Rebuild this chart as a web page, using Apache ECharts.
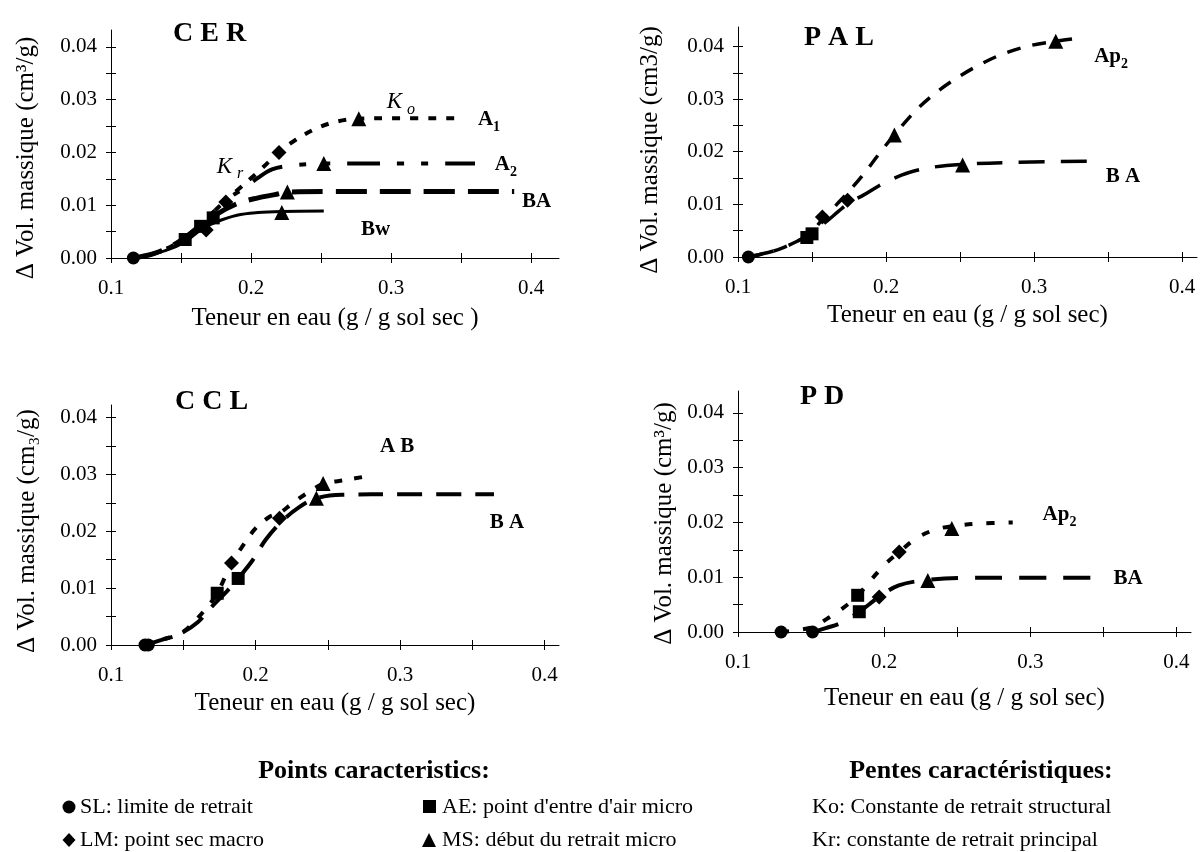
<!DOCTYPE html>
<html>
<head>
<meta charset="utf-8">
<title>Courbes de retrait</title>
<script src="https://cdn.jsdelivr.net/npm/echarts@6/dist/echarts.min.js"></script>
<style>
html, body { margin: 0; padding: 0; background: #fff; }
#main { width: 1202px; height: 852px; }
</style>
</head>
<body>
<div id="main"></div>
<script>
// ticks shared by the four panels
var xTicks = [0.1, 0.15, 0.2, 0.25, 0.3, 0.35, 0.4];
var xLabels = [0.1, 0.2, 0.3, 0.4];
var yTicks = [0, 0.005, 0.01, 0.015, 0.02, 0.025, 0.03, 0.035, 0.04];
var yLabels = [0, 0.01, 0.02, 0.03, 0.04];

// CER
var cerA1 = [[0.115,0],[0.13,0.0008],[0.145,0.0025],[0.16,0.0055],[0.175,0.0092],[0.19,0.0128],[0.205,0.0163],[0.22,0.0200],[0.232,0.0224],[0.247,0.0246],[0.262,0.0259],[0.277,0.0264],[0.30,0.0265],[0.35,0.0265]];
var cerA2 = [[0.115,0],[0.13,0.0008],[0.145,0.0025],[0.16,0.0055],[0.175,0.0092],[0.185,0.0115],[0.195,0.0132],[0.205,0.0152],[0.215,0.0168],[0.228,0.0175],[0.252,0.0179],[0.30,0.0179],[0.36,0.0179]];
var cerBA = [[0.115,0],[0.13,0.0008],[0.145,0.0025],[0.16,0.0052],[0.175,0.0082],[0.19,0.0103],[0.205,0.0114],[0.217,0.0120],[0.226,0.0125],[0.26,0.0126],[0.32,0.0126],[0.388,0.0126]];
var cerBw = [[0.115,0],[0.13,0.0007],[0.145,0.002],[0.155,0.0035],[0.165,0.0055],[0.175,0.0068],[0.19,0.0081],[0.205,0.0086],[0.222,0.0088],[0.252,0.0089]];
var cerSL = [[0.116,0]];
var cerAE = [[0.153,0.0035],[0.164,0.006],[0.173,0.0076]];
var cerLM = [[0.168,0.0053],[0.182,0.0106],[0.220,0.0200]];
var cerMS = [[0.277,0.0264],[0.252,0.0179],[0.226,0.0125],[0.222,0.0086]];
var cerText = [[0.307,0.0295,'{k|K}{ks|o}'],[0.185,0.0172,'{k|K}{ks|r}'],[0.370,0.0262,'{b|A}{bs|1}'],[0.382,0.0177,'{b|A}{bs|2}'],[0.404,0.0106,'{b|BA}'],[0.289,0.0053,'{b|Bw}']];

// PAL
var palAp2 = [[0.107,0],[0.118,0.0007],[0.128,0.0015],[0.14,0.003],[0.15,0.0048],[0.157,0.0072],[0.165,0.0095],[0.175,0.0125],[0.185,0.0158],[0.195,0.0195],[0.2056,0.0232],[0.22,0.0278],[0.235,0.0315],[0.25,0.0344],[0.265,0.0368],[0.28,0.0387],[0.298,0.0402],[0.315,0.041],[0.328,0.0415]];
var palBA = [[0.107,0],[0.118,0.0007],[0.128,0.0015],[0.14,0.003],[0.15,0.0045],[0.16,0.0068],[0.168,0.0087],[0.175,0.0103],[0.185,0.0118],[0.195,0.0135],[0.205,0.0149],[0.215,0.016],[0.23,0.017],[0.2517,0.0176],[0.29,0.018],[0.342,0.0182]];
var palSL = [[0.107,0]];
var palAE = [[0.1465,0.0037],[0.150,0.0044]];
var palLM = [[0.157,0.0076],[0.174,0.0108]];
var palMS = [[0.2056,0.0232],[0.3146,0.041],[0.2517,0.0175]];
var palText = [[0.352,0.0381,'{b|Ap}{bs|2}'],[0.360,0.0153,'{b|B A}']];

// CCL
var cclAB = [[0.124,0],[0.135,0.0009],[0.148,0.002],[0.158,0.0042],[0.166,0.0065],[0.1735,0.0091],[0.1834,0.0144],[0.19,0.017],[0.2,0.0205],[0.21,0.0226],[0.2166,0.0232],[0.225,0.0248],[0.235,0.0266],[0.2468,0.0283],[0.262,0.029],[0.28,0.0298]];
var cclBA = [[0.124,0],[0.135,0.0009],[0.148,0.002],[0.16,0.004],[0.17,0.0068],[0.18,0.0094],[0.188,0.0117],[0.198,0.0149],[0.207,0.0185],[0.218,0.0217],[0.23,0.0242],[0.2421,0.0258],[0.26,0.0264],[0.3,0.0265],[0.365,0.0265]];
var cclSL = [[0.1235,0],[0.1258,0]];
var cclAE = [[0.1735,0.0091],[0.188,0.0117]];
var cclLM = [[0.1834,0.0144],[0.2166,0.0223]];
var cclMS = [[0.2468,0.0284],[0.2421,0.0258]];
var cclText = [[0.298,0.0349,'{b|A B}'],[0.374,0.0215,'{b|B A}']];

// PD
var pdAp2 = [[0.1295,0],[0.14,0.0003],[0.152,0.001],[0.162,0.0026],[0.172,0.0044],[0.182,0.0067],[0.192,0.0098],[0.2,0.0122],[0.2103,0.0146],[0.222,0.0171],[0.235,0.0187],[0.2463,0.0193],[0.265,0.0198],[0.288,0.02]];
var pdBA = [[0.151,0],[0.16,0.0007],[0.171,0.0017],[0.183,0.0037],[0.1966,0.0064],[0.21,0.0085],[0.2299,0.0095],[0.26,0.0099],[0.348,0.0099]];
var pdSL = [[0.1295,0],[0.151,0]];
var pdAE = [[0.1819,0.0067],[0.183,0.0037]];
var pdLM = [[0.2103,0.0146],[0.1966,0.0064]];
var pdMS = [[0.2463,0.0189],[0.2299,0.0094]];
var pdText = [[0.320,0.0215,'{b|Ap}{bs|2}'],[0.367,0.0098,'{b|BA}']];

var SERIF = "'Liberation Serif', 'Times New Roman', serif";
var INK = '#000';

var panels = [
    { title: 'C E R', tx: 168, ty: 15, grid: { left: 111, top: 30, width: 448, height: 228 }, xMax: 0.42, yMax: 0.0432,
      yName: 'Δ Vol. massique (cm³/g)', yGap: 72, yShift: 28, xName: 'Teneur en eau (g / g sol sec )', xGap: 48,
      lines: [ { d: cerA1, dash: [8, 10], w: 4 }, { d: cerA2, dash: [7, 17, 7, 17, 33, 17], w: 4 },
               { d: cerBA, dash: [31, 13], w: 5 }, { d: cerBw, dash: 'solid', w: 3 } ],
      sl: cerSL, ae: cerAE, lm: cerLM, ms: cerMS, text: cerText },
    { title: 'P A L', tx: 799, ty: 19, grid: { left: 738, top: 27, width: 459, height: 230 }, xMax: 0.41, yMax: 0.0437,
      yName: 'Δ Vol. massique (cm3/g)', yGap: 75, yShift: 16, xName: 'Teneur en eau (g / g sol sec)', xGap: 46,
      lines: [ { d: palAp2, dash: [14, 12], w: 3.5 }, { d: palBA, dash: [26, 16], w: 3.5 } ],
      sl: palSL, ae: palAE, lm: palLM, ms: palMS, text: palText },
    { title: 'C C L', tx: 170, ty: 383, grid: { left: 111, top: 405, width: 448, height: 240 }, xMax: 0.41, yMax: 0.0422,
      yName: 'Δ Vol. massique (cm₃/g)', yGap: 71, yShift: 12, xName: 'Teneur en eau (g / g sol sec)', xGap: 46,
      lines: [ { d: cclAB, dash: [8, 12], w: 4 }, { d: cclBA, dash: [25, 14], w: 4 } ],
      sl: cclSL, ae: cclAE, lm: cclLM, ms: cclMS, text: cclText },
    { title: 'P D', tx: 795, ty: 378, grid: { left: 738, top: 391, width: 453, height: 241 }, xMax: 0.41, yMax: 0.044,
      yName: 'Δ Vol. massique (cm³/g)', yGap: 61, yShift: 24, xName: 'Teneur en eau (g / g sol sec)', xGap: 54,
      lines: [ { d: pdAp2, dash: [8, 14], w: 4 }, { d: pdBA, dash: [27, 17], w: 4 } ],
      sl: pdSL, ae: pdAE, lm: pdLM, ms: pdMS, text: pdText }
];

function onHundredth(v) {
    return Math.abs(v * 100 - Math.round(v * 100)) < 1e-6;
}
function fmtX(v) { return onHundredth(v * 10) ? v.toFixed(1) : ''; }
function fmtY(v) { return onHundredth(v) ? v.toFixed(2) : ''; }

var labelRich = {
    b:  { fontFamily: SERIF, fontSize: 21, fontWeight: 'bold', color: INK, lineHeight: 30, verticalAlign: 'middle' },
    bs: { fontFamily: SERIF, fontSize: 14, fontWeight: 'bold', color: INK, lineHeight: 30, verticalAlign: 'bottom' },
    k:  { fontFamily: SERIF, fontSize: 23, fontStyle: 'italic', color: INK, lineHeight: 30, verticalAlign: 'middle' },
    ks: { fontFamily: SERIF, fontSize: 16, fontStyle: 'italic', color: INK, lineHeight: 30, verticalAlign: 'bottom', padding: [0, 0, 0, 5] }
};

var grids = [], xAxes = [], yAxes = [], series = [], titles = [];

for (var i = 0; i < panels.length; i++) {
    var p = panels[i];
    var gMain = 2 * i, gIn = 2 * i + 1;
    grids.push(Object.assign({ containLabel: false }, p.grid));
    grids.push(Object.assign({ containLabel: false }, p.grid));

    titles.push({ text: p.title, left: p.tx, top: p.ty,
        textStyle: { fontFamily: SERIF, fontSize: 28, fontWeight: 'bold', color: INK } });

    // axes with outside ticks, labels and names
    xAxes.push({
        gridIndex: gMain, type: 'value', min: 0.1, max: p.xMax, interval: 0.05,
        axisLine: { show: true, onZero: false, lineStyle: { color: INK, width: 1 } },
        axisTick: { show: true, length: 5, customValues: xTicks, lineStyle: { color: INK } },
        axisLabel: { margin: 20, customValues: xLabels, formatter: fmtX, fontFamily: SERIF, fontSize: 21, color: INK },
        splitLine: { show: false },
        name: p.xName, nameLocation: 'middle', nameGap: p.xGap,
        nameTextStyle: { fontFamily: SERIF, fontSize: 25, color: INK }
    });
    yAxes.push({
        gridIndex: gMain, type: 'value', min: 0, max: p.yMax, interval: 0.005,
        axisLine: { show: true, onZero: false, lineStyle: { color: INK, width: 1 } },
        axisTick: { show: true, length: 5, customValues: yTicks, lineStyle: { color: INK } },
        axisLabel: { margin: 14, customValues: yLabels, formatter: fmtY, fontFamily: SERIF, fontSize: 21, color: INK },
        splitLine: { show: false },
        name: p.yName, nameLocation: 'middle', nameGap: p.yGap,
        nameTextStyle: { fontFamily: SERIF, fontSize: 25, color: INK, padding: [0, p.yShift, 0, 0] }
    });
    // twin axes: inside half of the crossing ticks
    xAxes.push({
        gridIndex: gIn, type: 'value', min: 0.1, max: p.xMax, interval: 0.05,
        axisLine: { show: false }, axisLabel: { show: false }, splitLine: { show: false },
        axisTick: { show: true, inside: true, length: 5, customValues: xTicks, lineStyle: { color: INK } }
    });
    yAxes.push({
        gridIndex: gIn, type: 'value', min: 0, max: p.yMax, interval: 0.005,
        axisLine: { show: false }, axisLabel: { show: false }, splitLine: { show: false },
        axisTick: { show: true, inside: true, length: 5, customValues: yTicks, lineStyle: { color: INK } }
    });

    p.lines.forEach(function (ln) {
        series.push({
            type: 'line', xAxisIndex: gMain, yAxisIndex: gMain, data: ln.d,
            smooth: 0.35, showSymbol: false, silent: true, z: 2,
            lineStyle: { color: INK, width: ln.w, type: ln.dash, cap: 'butt', opacity: 1 }
        });
    });

    [['circle', p.sl, 13], ['rect', p.ae, 13], ['diamond', p.lm, 15], ['triangle', p.ms, 15]].forEach(function (m) {
        series.push({
            type: 'scatter', xAxisIndex: gMain, yAxisIndex: gMain, data: m[1],
            symbol: m[0], symbolSize: m[2], silent: true, z: 3,
            itemStyle: { color: INK, opacity: 1 }
        });
    });

    series.push({
        type: 'scatter', xAxisIndex: gMain, yAxisIndex: gMain, symbolSize: 0, silent: true, z: 4,
        itemStyle: { opacity: 1 },
        data: p.text.map(function (t) {
            return { value: [t[0], t[1]], label: { formatter: t[2] } };
        }),
        label: { show: true, position: 'inside', color: INK, opacity: 1, rich: labelRich }
    });
}

// legend blocks at the bottom
var legendFont = '22px ' + SERIF;
var headFont = 'bold 26px ' + SERIF;
var graphics = [
    { type: 'text', x: 374, y: 771, style: { text: 'Points caracteristics:', font: headFont, fill: INK, align: 'center', verticalAlign: 'middle' } },
    { type: 'text', x: 981, y: 771, style: { text: 'Pentes caractéristiques:', font: headFont, fill: INK, align: 'center', verticalAlign: 'middle' } },

    { type: 'circle', shape: { cx: 69, cy: 807, r: 6.5 }, style: { fill: INK } },
    { type: 'text', x: 80, y: 807, style: { text: 'SL: limite de retrait', font: legendFont, fill: INK, verticalAlign: 'middle' } },
    { type: 'rect', shape: { x: 423, y: 800, width: 13, height: 13 }, style: { fill: INK } },
    { type: 'text', x: 442, y: 807, style: { text: "AE: point d'entre d'air micro", font: legendFont, fill: INK, verticalAlign: 'middle' } },
    { type: 'text', x: 812, y: 807, style: { text: 'Ko: Constante de retrait structural', font: legendFont, fill: INK, verticalAlign: 'middle' } },

    { type: 'polygon', shape: { points: [[69, 833], [75.5, 840], [69, 847], [62.5, 840]] }, style: { fill: INK } },
    { type: 'text', x: 80, y: 840, style: { text: 'LM: point sec macro', font: legendFont, fill: INK, verticalAlign: 'middle' } },
    { type: 'polygon', shape: { points: [[429, 833], [436, 847], [422, 847]] }, style: { fill: INK } },
    { type: 'text', x: 442, y: 840, style: { text: 'MS: début du retrait micro', font: legendFont, fill: INK, verticalAlign: 'middle' } },
    { type: 'text', x: 812, y: 840, style: { text: 'Kr: constante de retrait principal', font: legendFont, fill: INK, verticalAlign: 'middle' } }
];

var chart = echarts.init(document.getElementById('main'), null, { renderer: 'canvas' });
chart.setOption({
    backgroundColor: '#fff',
    animation: false,
    title: titles,
    grid: grids,
    xAxis: xAxes,
    yAxis: yAxes,
    series: series,
    graphic: graphics
});
</script>
</body>
</html>
